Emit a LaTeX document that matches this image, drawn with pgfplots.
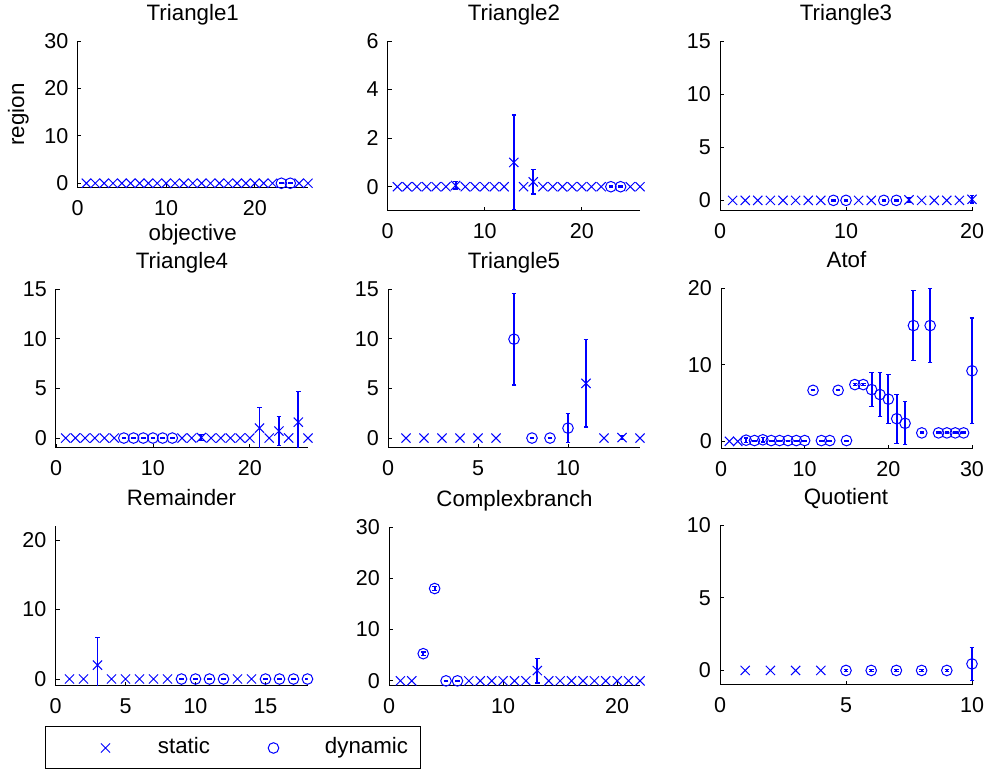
\documentclass[border=0pt]{standalone}
\usepackage{fontspec}
\setmainfont{Liberation Sans}
\usepackage{pgfplots}
\pgfplotsset{compat=1.18}

\newcommand\ticksize{\fontsize{21.5}{24}\selectfont}
\newcommand\labsize{\fontsize{22.3}{26}\selectfont}

\pgfplotsset{
  sub/.style={
    scale only axis, anchor=south west,
    axis x line*=bottom, axis y line*=left,
    tick align=inside, major tick length=4pt,
    enlargelimits=false, xmin=0, ymin=-1,
    axis line style={line width=1pt, black},
    tick style={line width=0.8pt, black},
    tick label style={font=\ticksize},
    /pgf/number format/assume math mode=true,
    xticklabel style={inner sep=0pt, yshift=-12.5pt},
    yticklabel style={inner sep=0pt, xshift=-9pt},
    title style={font=\labsize, at={(0.5,1)}, anchor=base, yshift=14pt, inner sep=0pt},
    label style={font=\labsize},
  },
  st/.style={only marks, mark=x, color=blue, mark size=6.5pt, line width=1pt},
  dy/.style={only marks, mark=o, color=blue, mark size=5.3pt, line width=1pt},
  eb/.style={error bars/y dir=both, error bars/y explicit, error bars/error mark=|,
    error bars/error bar style={line width=1.9pt, color=blue},
    error bars/error mark options={color=blue, mark size=2.3pt, line width=1.3pt}},
  legA/.style={legend image code/.code={\path (0pt,0pt) (111pt,0pt); \draw[##1] plot coordinates {(59pt,0pt)};}},
  legB/.style={legend image code/.code={\path (0pt,0pt) (71pt,0pt); \draw[##1] plot coordinates {(20pt,0pt)};}},
}

\begin{document}
\begin{tikzpicture}
\useasboundingbox (0,0) rectangle (989pt,770pt);

% Triangle1
\begin{axis}[sub, at={(77.5pt,582pt)}, width=230.5pt, height=147pt,
  xmax=26, ymax=30, xtick={0,10,20}, ytick={0,10,20,30}, title={Triangle1},
  xlabel={objective}, ylabel={region},
  xlabel style={at={(axis description cs:0.5,-0.36)}, anchor=base},
  ylabel style={at={(axis description cs:-0.232,0.5)}, anchor=base}]
\addplot[st] coordinates {(1,0) (2,0) (3,0) (4,0) (5,0) (6,0) (7,0) (8,0) (9,0) (10,0) (11,0) (12,0) (13,0) (14,0) (15,0) (16,0) (17,0) (18,0) (19,0) (20,0) (21,0) (22,0) (25,0) (26,0)};
\addplot[dy, eb] coordinates {(23,0) +- (0,0.1) (24,0) +- (0,0.1)};
\end{axis}

% Triangle2
\begin{axis}[sub, at={(387.7pt,559pt)}, width=252.3pt, height=170pt,
  xmax=26, ymax=6, xtick={0,10,20}, ytick={0,2,4,6}, title={Triangle2}]
\addplot[st] coordinates {(1,0) (2,0) (3,0) (4,0) (5,0) (6,0) (8,0) (9,0) (10,0) (11,0) (12,0) (14,0) (16,0) (17,0) (18,0) (19,0) (20,0) (21,0) (22,0) (25,0) (26,0)};
\addplot[st, eb] coordinates {(7,0.05) +- (0,0.15) (13,1.0) +- (0,1.95) (15,0.2) +- (0,0.5)};
\addplot[dy, eb] coordinates {(23,0) +- (0,0.03) (24,0) +- (0,0.03)};
\end{axis}

% Triangle3
\begin{axis}[sub, at={(720pt,559pt)}, width=252pt, height=170pt,
  xmax=20, ymax=15, xtick={0,10,20}, ytick={0,5,10,15}, title={Triangle3}, clip=false]
\addplot[st] coordinates {(1,0) (2,0) (3,0) (4,0) (5,0) (6,0) (7,0) (8,0) (11,0) (12,0) (16,0) (17,0) (18,0) (19,0)};
\addplot[st, eb] coordinates {(15,0.05) +- (0,0.25) (20,0.1) +- (0,0.35)};
\addplot[dy, eb] coordinates {(9,0) +- (0,0.05) (10,0) +- (0,0.05) (13,0) +- (0,0.05) (14,0) +- (0,0.05)};
\end{axis}

% Triangle4
\begin{axis}[sub, at={(56pt,322pt)}, width=252pt, height=159pt,
  xmax=26, ymax=15, xtick={0,10,20}, ytick={0,5,10,15}, title={Triangle4}]
\addplot[st] coordinates {(1,0) (2,0) (3,0) (4,0) (5,0) (6,0) (13,0) (14,0) (16,0) (17,0) (18,0) (19,0) (20,0) (22,0) (24,0) (26,0)};
\addplot[st, eb] coordinates {(15,0.05) +- (0,0.3) (21,1.0) +- (0,2.1) (23,0.7) +- (0,1.45) (25,1.6) +- (0,3.1)};
\addplot[dy, eb] coordinates {(7,0) +- (0,0.05) (8,0) +- (0,0.05) (9,0) +- (0,0.05) (10,0) +- (0,0.05) (11,0) +- (0,0.05) (12,0) +- (0,0.05)};
\end{axis}

% Triangle5
\begin{axis}[sub, at={(388pt,322pt)}, width=252pt, height=159pt,
  xmax=14, ymax=15, xtick={0,5,10}, ytick={0,5,10,15}, title={Triangle5}]
\addplot[st] coordinates {(1,0) (2,0) (3,0) (4,0) (5,0) (6,0) (12,0) (14,0)};
\addplot[st, eb] coordinates {(11,5.5) +- (0,4.4) (13,0.05) +- (0,0.2)};
\addplot[dy, eb] coordinates {(7,9.95) +- (0,4.6) (8,0) +- (0,0.05) (9,0) +- (0,0.05) (10,1.0) +- (0,1.45)};
\end{axis}

% Atof
\begin{axis}[sub, at={(721pt,321pt)}, width=251pt, height=161pt,
  xmax=30, ymax=20, xtick={0,10,20,30}, ytick={0,10,20}, title={Atof}, clip=false]
\addplot[st] coordinates {(1,0) (2,0)};
\addplot[dy, eb] coordinates {
  (3,0.15) +- (0,0.3) (4,0.1) +- (0,0.05) (5,0.2) +- (0,0.3) (6,0.1) +- (0,0.05)
  (7,0.1) +- (0,0.05) (8,0.1) +- (0,0.05) (9,0.1) +- (0,0.05) (10,0.1) +- (0,0.05)
  (11,6.65) +- (0,0.05) (12,0.1) +- (0,0.05) (13,0.1) +- (0,0.05) (14,6.65) +- (0,0.05)
  (15,0.1) +- (0,0.05) (16,7.4) +- (0,0.15) (17,7.4) +- (0,0.15) (18,6.75) +- (0,2.2)
  (19,6.1) +- (0,2.85) (20,5.5) +- (0,3.2) (21,2.95) +- (0,3.2) (22,2.35) +- (0,2.8)
  (23,15.1) +- (0,4.55) (24,1.1) +- (0,0.1) (25,15.1) +- (0,4.8) (26,1.1) +- (0,0.1)
  (27,1.1) +- (0,0.1) (28,1.1) +- (0,0.1) (29,1.1) +- (0,0.1) (30,9.2) +- (0,6.9)};
\end{axis}

% Remainder
\begin{axis}[sub, at={(55.5pt,84pt)}, width=252pt, height=160pt,
  xmax=18, ymax=22, xtick={0,5,10,15}, ytick={0,10,20}, title={Remainder},
  legend columns=2, legend cell align=left,
  legend style={at={(axis description cs:-0.0377,-0.25625)}, anchor=north west,
    draw=black, line width=1pt, inner sep=0pt, outer sep=0pt,
    column sep=0pt, row sep=0pt,
    /tikz/every odd column/.style={column sep=0pt},
    /tikz/every even column/.style={column sep=0pt},
    nodes={inner sep=0pt, text width=95pt, align=left, font=\labsize,
      minimum height=42pt, text height=16pt, text depth=4.5pt}}]
\addlegendimage{st, legA}
\addlegendentry{static}
\addlegendimage{dy, legB}
\addlegendentry{dynamic}
\addplot[st, forget plot] coordinates {(1,0) (2,0) (4,0) (5,0) (6,0) (7,0) (8,0) (13,0) (14,0)};
\addplot[st, eb, forget plot] coordinates {(3,2.0) +- (0,3.95)};
\addplot[dy, eb, forget plot] coordinates {(9,0) +- (0,0.1) (10,0) +- (0,0.1) (11,0) +- (0,0.1) (12,0) +- (0,0.1) (15,0) +- (0,0.1) (16,0) +- (0,0.1) (17,0) +- (0,0.1) (18,0) +- (0,0.1)};
\end{axis}

% Complexbranch
\begin{axis}[sub, at={(389pt,84pt)}, width=251pt, height=159pt,
  xmax=22, ymax=30, xtick={0,10,20}, ytick={0,10,20,30}, title={Complexbranch}]
\addplot[st] coordinates {(1,0) (2,0) (7,0) (8,0) (9,0) (10,0) (11,0) (12,0) (14,0) (15,0) (16,0) (17,0) (18,0) (19,0) (20,0) (21,0) (22,0)};
\addplot[st, eb] coordinates {(13,2.0) +- (0,2.4)};
\addplot[dy, eb] coordinates {(3,5.3) +- (0,0.3) (4,18.0) +- (0,0.4) (5,0) +- (0,0.1) (6,0) +- (0,0.1)};
\end{axis}

% Quotient
\begin{axis}[sub, at={(720pt,85pt)}, width=252pt, height=160pt,
  xmax=10, ymax=10, xtick={0,5,10}, ytick={0,5,10}, title={Quotient}, clip=false]
\addplot[st] coordinates {(1,0) (2,0) (3,0) (4,0)};
\addplot[dy, eb] coordinates {(5,0) +- (0,0.05) (6,0) +- (0,0.05) (7,0) +- (0,0.05) (8,0) +- (0,0.05) (9,0) +- (0,0.05) (10,0.45) +- (0,1.15)};
\end{axis}

\end{tikzpicture}
\end{document}
